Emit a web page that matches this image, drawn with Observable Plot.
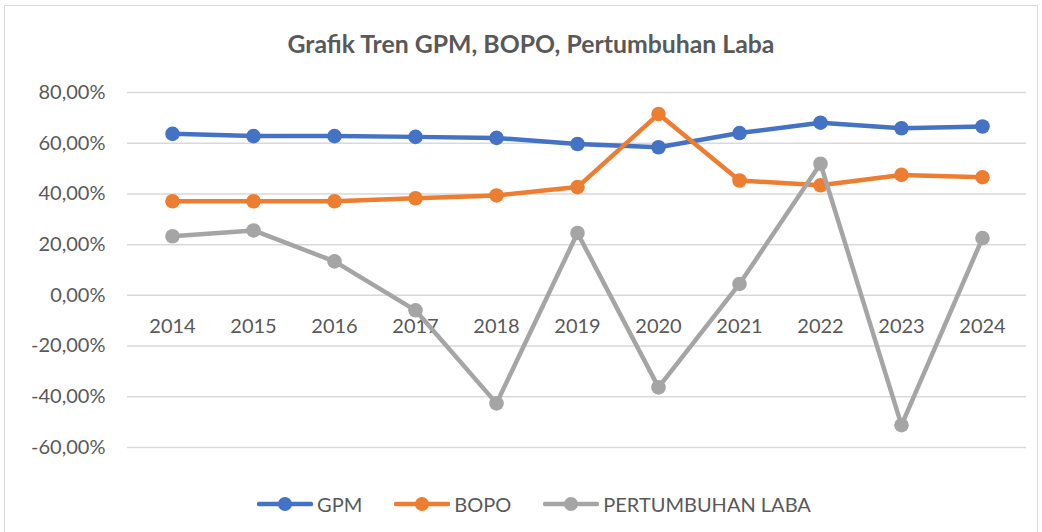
<!DOCTYPE html>
<html>
<head>
<meta charset="utf-8">
<script src="https://cdn.jsdelivr.net/npm/d3@7"></script>
<script src="https://cdn.jsdelivr.net/npm/@observablehq/plot@0.6"></script>
<style>
  html, body { margin: 0; padding: 0; background: #fff; }
  body { width: 1042px; height: 532px; position: relative; overflow: hidden; font-family: Lato, "Open Sans", sans-serif; }
  #frame { position: absolute; left: 4px; top: 5px; width: 1034px; height: 560px; border: 1px solid #d9d9d9; box-sizing: border-box; }
  #title { position: absolute; left: 10px; width: 1042px; top: 29px; text-align: center; font-size: 24.8px; font-weight: bold; color: #595959; line-height: 30px; }
  #chart { position: absolute; left: 0; top: 60px; }
  #legend { position: absolute; left: 13px; width: 1042px; top: 492px; display: flex; justify-content: center; align-items: center; gap: 32px; font-size: 20px; color: #595959; }
  .item { display: flex; align-items: center; gap: 4px; }
</style>
</head>
<body>
<div id="frame"></div>
<div id="title">Grafik Tren GPM, BOPO, Pertumbuhan Laba</div>
<div id="chart"></div>
<div id="legend"></div>
<script>
const years = ["2014","2015","2016","2017","2018","2019","2020","2021","2022","2023","2024"];
const gpm  = [63.7, 62.8, 62.8, 62.5, 62.1, 59.7, 58.4, 64.0, 68.1, 65.9, 66.6];
const bopo = [37.1, 37.1, 37.1, 38.3, 39.4, 42.7, 71.5, 45.3, 43.4, 47.5, 46.6];
const laba = [23.3, 25.6, 13.4, -5.9, -42.6, 24.6, -36.3, 4.5, 51.9, -51.2, 22.6];
const seriesNames = ["GPM", "BOPO", "PERTUMBUHAN LABA"];
const seriesColors = ["#4472C4", "#ED7D31", "#A5A5A5"];
const yTicks = [-60, -40, -20, 0, 20, 40, 60, 80];

const seriesValues = [gpm, bopo, laba];
const rows = [];
seriesNames.forEach((s, i) => years.forEach((y, j) => rows.push({series: s, year: y, value: seriesValues[i][j]})));

const fmt = d => d.toFixed(2).replace(".", ",") + "%";

const marks = [
  Plot.gridY(yTicks, {stroke: "#d9d9d9", strokeOpacity: 1, strokeWidth: 1.5}),
  Plot.axisY(yTicks, {tickSize: 0, tickPadding: 22, tickFormat: fmt, fontSize: 20, fill: "#595959", label: null}),
  Plot.text(years, {x: d => d, y: 0, dy: 31, text: d => d, fontSize: 20, fill: "#595959"})
];
seriesNames.forEach((s, i) => {
  const data = rows.filter(r => r.series === s);
  marks.push(Plot.line(data, {x: "year", y: "value", stroke: seriesColors[i], strokeWidth: 4.5, strokeLinejoin: "round"}));
  marks.push(Plot.dot(data, {x: "year", y: "value", r: 7.3, fill: seriesColors[i], stroke: "none"}));
});

const chart = Plot.plot({
  width: 1042,
  height: 410,
  marginLeft: 127,
  marginRight: 16,
  marginTop: 32,
  marginBottom: 23,
  style: {fontFamily: "Lato, 'Open Sans', sans-serif", background: "transparent"},
  x: {type: "point", domain: years, padding: 0.5, axis: null},
  y: {domain: [-60, 80], axis: null},
  marks
});
document.getElementById("chart").appendChild(chart);

const legend = document.getElementById("legend");
seriesNames.forEach((s, i) => {
  const item = document.createElement("div");
  item.className = "item";
  item.innerHTML = `<svg width="56" height="16"><line x1="2" y1="8" x2="54" y2="8" stroke="${seriesColors[i]}" stroke-width="4.5" stroke-linecap="round"/><circle cx="28" cy="8" r="7" fill="${seriesColors[i]}"/></svg><span>${s}</span>`;
  legend.appendChild(item);
});
</script>
</body>
</html>
